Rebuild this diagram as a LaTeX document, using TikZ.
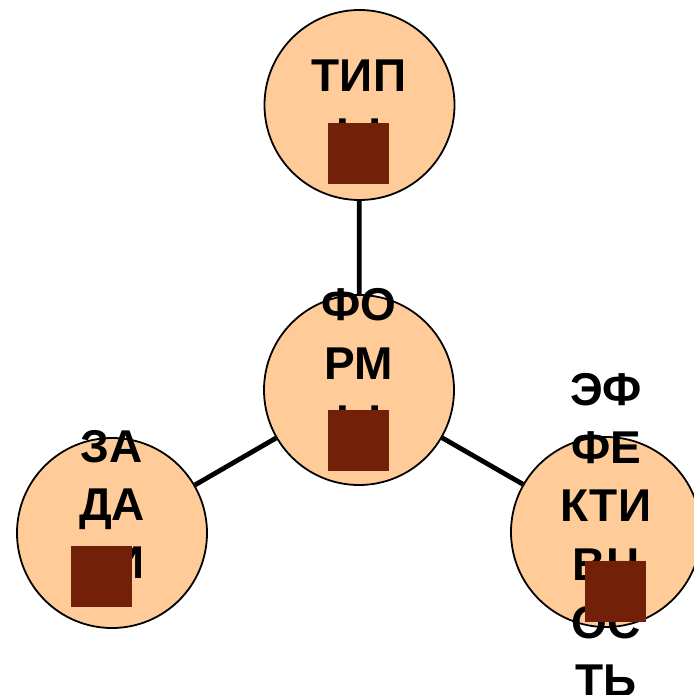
\documentclass[tikz,border=0pt]{standalone}
\usepackage{fontspec}
\setmainfont{Liberation Sans}
\definecolor{peach}{RGB}{255,204,153}
\definecolor{brownpatch}{RGB}{115,32,8}
\begin{document}
\begin{tikzpicture}[x=1pt,y=-1pt]
\tikzset{
  bub/.style={circle, draw=black, line width=1.8pt, fill=peach, minimum size=190pt, inner sep=0pt},
  link/.style={line width=4.8pt},
  lbl/.style={font=\fontsize{46}{58}\bfseries\selectfont, anchor=base, inner sep=0pt},
  patch/.style={fill=brownpatch, draw=none, minimum size=61pt, inner sep=0pt, anchor=north west}
}
\useasboundingbox (0,0) rectangle (693,695);
\node[bub] (top) at (359.5,105) {};
\node[bub] (mid) at (359,390) {};
\node[bub] (left) at (112,533) {};
\node[bub] (right) at (606,532) {};
\draw[link] (mid) -- (top);
\draw[link] (mid) -- (left);
\draw[link] (mid) -- (right);
% texts
\node[lbl] (t1) at (359,92) {ТИП};
\node[lbl] (t2) at (359,150) {Ы};
\node[lbl] (m1) at (359,320) {ФО};
\node[lbl] (m2) at (359,379) {РМ};
\node[lbl] (m3) at (359,437) {Ы};
\node[lbl] (l1) at (112,462) {ЗА};
\node[lbl] (l2) at (112,520) {ДА};
\node[lbl] (l3) at (112,578) {ЧИ};
\node[lbl] (r1) at (606,405) {ЭФ};
\node[lbl] (r2) at (606,463) {ФЕ};
\node[lbl] (r3) at (606,521) {КТИ};
\node[lbl] (r4) at (606,580) {ВН};
\node[lbl] (r5) at (606,638) {ОС};
\node[lbl] (r6) at (606,696) {ТЬ};
% patches
\node[patch] (p1) at (328,123) {};
\node[patch] (p2) at (328,410) {};
\node[patch] (p3) at (71,546) {};
\node[patch] (p4) at (585,561) {};
\end{tikzpicture}
\end{document}
